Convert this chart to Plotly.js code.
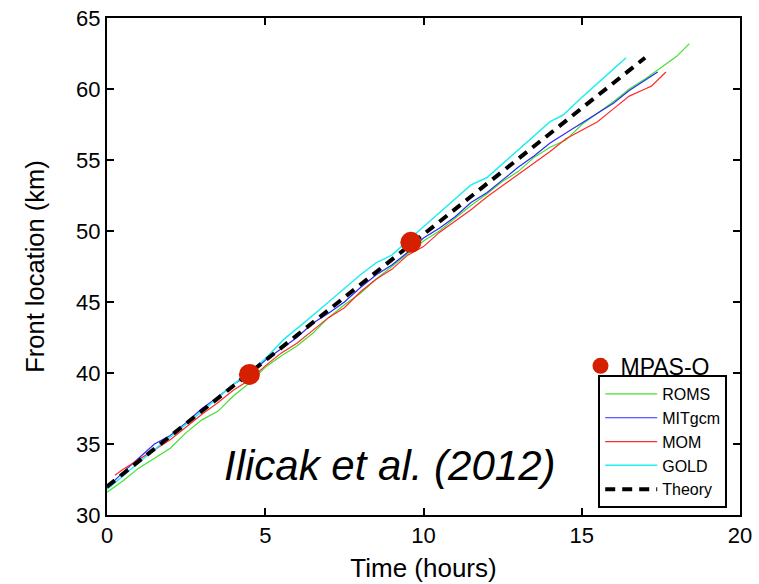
<!DOCTYPE html>
<html>
<head>
<meta charset="utf-8">
<script src="https://cdn.plot.ly/plotly-3.0.1.min.js"></script>
<style>html,body{margin:0;padding:0;background:#fff;}#chart{width:759px;height:584px;}</style>
</head>
<body>
<div id="chart"></div>
<script>
// Time (hours) and front location (km)
const romsT = [0, 0.5, 1.0, 1.5, 2.0, 2.5, 3.0, 3.5, 4.0, 4.5, 5.0, 5.5, 6.0, 6.5, 7.0, 7.5, 8.0, 8.5, 9.0, 9.5, 10.0, 10.5, 11.0, 11.5, 12.0, 12.5, 13.0, 13.5, 14.0, 14.5, 15.0, 15.5, 16.0, 16.5, 17.0, 17.5, 18.0, 18.4];
const romsY = [31.6, 32.4, 33.3, 34.0, 34.7, 35.8, 36.7, 37.3, 38.4, 39.3, 40.4, 41.2, 41.9, 42.8, 43.9, 44.8, 45.6, 46.6, 47.5, 48.4, 49.3, 50.0, 50.9, 51.8, 52.6, 53.5, 54.2, 55.2, 55.9, 56.4, 57.5, 58.3, 59.1, 60.0, 60.7, 61.5, 62.3, 63.2];

const mitT = [0, 0.5, 1.0, 1.5, 2.0, 2.5, 3.0, 3.5, 4.0, 4.5, 5.0, 5.5, 6.0, 6.5, 7.0, 7.5, 8.0, 8.5, 9.0, 9.5, 10.0, 10.5, 11.0, 11.5, 12.0, 12.5, 13.0, 13.5, 14.0, 14.5, 15.0, 15.5, 16.0, 16.5, 17.0, 17.4];
const mitY = [31.9, 33.0, 34.0, 35.0, 35.6, 36.5, 37.5, 38.3, 39.2, 39.9, 40.9, 41.7, 42.5, 43.5, 44.2, 45.0, 46.0, 46.9, 47.6, 48.5, 49.5, 50.2, 51.0, 52.0, 52.7, 53.6, 54.5, 55.3, 56.2, 56.9, 57.6, 58.3, 59.0, 59.9, 60.6, 61.2];

const momT = [0.25, 0.5, 1.0, 1.5, 2.0, 2.5, 3.0, 3.5, 4.0, 4.5, 5.0, 5.5, 6.0, 6.5, 7.0, 7.5, 8.0, 8.5, 9.0, 9.5, 10.0, 10.5, 11.0, 11.5, 12.0, 12.5, 13.0, 13.5, 14.0, 14.5, 15.0, 15.5, 16.0, 16.5, 17.0, 17.2, 17.66];
const momY = [32.8, 33.2, 33.9, 34.6, 35.3, 36.2, 37.1, 37.9, 38.8, 39.5, 40.5, 41.4, 42.1, 43.0, 43.9, 44.6, 45.7, 46.6, 47.3, 48.3, 48.9, 49.9, 50.7, 51.5, 52.4, 53.2, 54.0, 54.8, 55.6, 56.5, 57.1, 57.7, 58.6, 59.5, 60.0, 60.2, 61.2];

const goldT = [0, 1, 2, 3, 4, 5, 5.6, 6.1, 7, 8, 8.5, 9, 10, 11, 11.5, 12, 13, 14, 14.4, 15, 16, 16.4];
const goldY = [31.8, 33.7, 35.5, 37.3, 39.2, 41.0, 42.4, 43.3, 45.0, 46.9, 47.75, 48.3, 50.3, 52.3, 53.25, 53.75, 55.7, 57.7, 58.15, 59.4, 61.4, 62.2];

const theoryT = [0, 17];
const theoryY = [32.0, 62.2];

const mpasT = [4.5, 9.6];
const mpasY = [39.9, 49.2];

const xTicks = [0, 5, 10, 15, 20];
const yTicks = [30, 35, 40, 45, 50, 55, 60, 65];

const traces = [
  {x: romsT, y: romsY, name: 'ROMS', mode: 'lines', line: {color: '#44e030', width: 1.2}, legend: 'legend'},
  {x: mitT, y: mitY, name: 'MITgcm', mode: 'lines', line: {color: '#2a2aff', width: 1.2}, legend: 'legend'},
  {x: momT, y: momY, name: 'MOM', mode: 'lines', line: {color: '#ff2a2a', width: 1.2}, legend: 'legend'},
  {x: goldT, y: goldY, name: 'GOLD', mode: 'lines', line: {color: '#22eef0', width: 1.5}, legend: 'legend'},
  {x: theoryT, y: theoryY, name: 'Theory', mode: 'lines', line: {color: '#000', width: 4, dash: '10px,7px'}, legend: 'legend'},
  {x: mpasT, y: mpasY, name: 'MPAS-O', mode: 'markers', marker: {color: '#d42000', size: 21}, legend: 'legend2'}
];

const font = 'Liberation Sans, Arial, Helvetica, sans-serif';

const layout = {
  width: 759, height: 584,
  margin: {l: 107, r: 19, t: 18, b: 69},
  paper_bgcolor: '#fff', plot_bgcolor: '#fff',
  font: {family: font, color: '#000'},
  showlegend: true,
  xaxis: {
    range: [0, 20], tickvals: xTicks, ticktext: xTicks.map(String),
    ticks: 'inside', ticklen: 7, tickwidth: 2, tickcolor: '#000',
    showline: true, linecolor: '#000', linewidth: 2, mirror: 'ticks',
    showgrid: false, zeroline: false,
    tickfont: {size: 22, family: font},
    title: {text: 'Time (hours)', font: {size: 26, family: font}, standoff: 11}
  },
  yaxis: {
    range: [30, 65], tickvals: yTicks, ticktext: yTicks.map(String),
    ticks: 'inside', ticklen: 7, tickwidth: 2, tickcolor: '#000',
    showline: true, linecolor: '#000', linewidth: 2, mirror: 'ticks',
    showgrid: false, zeroline: false,
    tickfont: {size: 22, family: font},
    title: {text: 'Front location (km)', font: {size: 25.5, family: font}, standoff: 24}
  },
  legend: {
    x: 0.776, y: 0.014, xanchor: 'left', yanchor: 'bottom',
    bgcolor: '#fff', bordercolor: '#000', borderwidth: 2,
    font: {size: 16, family: font}, tracegroupgap: 0, itemwidth: 52
  },
  legend2: {
    x: 0.748, y: 0.30, xanchor: 'left', yanchor: 'middle',
    bgcolor: 'rgba(0,0,0,0)', borderwidth: 0,
    font: {size: 23, family: font}, itemsizing: 'trace'
  },
  annotations: [{
    x: 0.447, y: 0.10, xref: 'paper', yref: 'paper', xanchor: 'center', yanchor: 'middle',
    text: '<i>Ilicak et al. (2012)</i>', showarrow: false,
    font: {size: 42, family: font, color: '#000'}
  }]
};

Plotly.newPlot('chart', traces, layout, {displayModeBar: false, staticPlot: true});
</script>
</body>
</html>
